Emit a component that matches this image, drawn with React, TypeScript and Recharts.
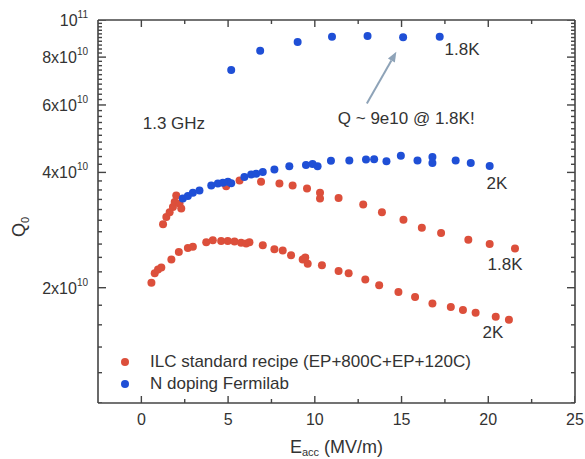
import React from 'react';
import { ScatterChart, Scatter, XAxis, YAxis, ReferenceLine, ReferenceDot, Legend } from 'recharts';

const FONT = '"Liberation Sans", Arial, Helvetica, sans-serif';
const RED = '#dc4f3b';
const BLUE = '#1f4fd6';
const AXIS = '#444444';
const TEXT = '#333333';
const ARROW = '#8ea3b8';

// Axes
const X_DOMAIN = [-2.5, 25];
const X_MAJOR_TICKS = [0, 5, 10, 15, 20, 25];
const X_MINOR_TICKS = [2.5, 7.5, 12.5, 17.5, 22.5];
const Y_DOMAIN = [1e10, 1e11];
const Y_MAJOR_TICKS = [2e10, 4e10, 6e10, 8e10, 1e11];
const Y_MINOR_START = 1e10;
const Y_MINOR_STEP = 2e9;
const Y_MINOR_COUNT = 46;

// N doping Fermilab, 1.8 K
const N18_E = [5.18, 6.85, 9.01, 10.99, 13.04, 15.09, 17.2];
const N18_Q = [7.40e10, 8.31e10, 8.76e10, 9.04e10, 9.08e10, 9.01e10, 9.04e10];

// N doping Fermilab, 2 K
const N20_E = [2.39, 2.68, 2.97, 3.35, 4.03, 4.41, 4.70, 4.99, 5.18, 5.94, 6.33, 6.62, 7.00, 7.67, 8.53, 9.49, 9.87, 10.16, 10.93, 11.99, 12.95, 13.42, 14.13, 14.96, 15.92, 16.78, 16.78, 18.12, 18.99, 20.08];
const N20_Q = [3.42e10, 3.47e10, 3.54e10, 3.59e10, 3.70e10, 3.74e10, 3.76e10, 3.78e10, 3.75e10, 3.89e10, 3.95e10, 3.97e10, 4.01e10, 4.07e10, 4.15e10, 4.18e10, 4.21e10, 4.15e10, 4.29e10, 4.30e10, 4.32e10, 4.33e10, 4.28e10, 4.42e10, 4.30e10, 4.39e10, 4.23e10, 4.30e10, 4.23e10, 4.16e10];

// ILC standard recipe, 1.8 K
const ILC18_E = [1.25, 1.44, 1.63, 1.82, 1.92, 2.01, 2.20, 2.30, 4.89, 5.66, 6.90, 7.96, 8.72, 9.55, 10.30, 10.30, 11.37, 12.79, 13.87, 15.11, 16.17, 17.28, 18.85, 20.08, 21.54];
const ILC18_Q = [2.93e10, 3.06e10, 3.15e10, 3.25e10, 3.35e10, 3.48e10, 3.32e10, 3.22e10, 3.68e10, 3.81e10, 3.78e10, 3.74e10, 3.70e10, 3.63e10, 3.54e10, 3.42e10, 3.43e10, 3.30e10, 3.15e10, 3.01e10, 2.87e10, 2.78e10, 2.67e10, 2.60e10, 2.53e10];

// ILC standard recipe, 2 K
const ILC20_E = [0.58, 0.77, 0.96, 1.15, 1.73, 2.16, 2.68, 2.97, 3.74, 4.12, 4.60, 4.98, 5.37, 5.75, 6.04, 6.23, 7.00, 7.67, 8.15, 8.63, 9.30, 9.45, 9.59, 10.41, 11.37, 11.95, 12.91, 13.71, 14.82, 15.78, 16.78, 17.84, 18.54, 19.27, 20.43, 21.19];
const ILC20_Q = [2.06e10, 2.18e10, 2.23e10, 2.26e10, 2.37e10, 2.48e10, 2.54e10, 2.56e10, 2.63e10, 2.66e10, 2.65e10, 2.65e10, 2.64e10, 2.62e10, 2.61e10, 2.63e10, 2.58e10, 2.52e10, 2.50e10, 2.43e10, 2.37e10, 2.40e10, 2.31e10, 2.29e10, 2.21e10, 2.18e10, 2.10e10, 2.03e10, 1.95e10, 1.89e10, 1.82e10, 1.78e10, 1.75e10, 1.72e10, 1.68e10, 1.65e10];

const LEGEND_LABELS = ['ILC standard recipe (EP+800C+EP+120C)', 'N doping Fermilab'];
const LEGEND_COLORS = [RED, BLUE];

// Annotations [E, Q, text, anchor]
const ANNOTATIONS: [number, number, string, string][] = [
  [0.08, 5.38e10, '1.3 GHz', 'start'],
  [15.27, 5.54e10, 'Q ~ 9e10 @ 1.8K!', 'middle'],
  [17.48, 8.40e10, '1.8K', 'start'],
  [19.9, 3.75e10, '2K', 'start'],
  [19.96, 2.31e10, '1.8K', 'start'],
  [19.67, 1.53e10, '2K', 'start'],
];
const ARROW_FROM = { x: 13.0, y: 6.05e10 };
const ARROW_TO = { x: 14.7, y: 8.26e10 };

const toPoints = (e: number[], q: number[]) => e.map((v, i) => ({ e: v, q: q[i] }));

const X_TICKS = [...X_MAJOR_TICKS, ...X_MINOR_TICKS].sort((a, b) => a - b);
const Y_TICKS = Array.from({ length: Y_MINOR_COUNT }, (_, k) => Y_MINOR_START + k * Y_MINOR_STEP);

const isYMajor = (v: number) => Y_MAJOR_TICKS.some((m) => Math.abs(m - v) < 1e6);
const isXMajor = (v: number) => X_MAJOR_TICKS.includes(v);

// tick marks placed on the frame through the chart's own scales
const Y_MINOR_ONLY = Y_TICKS.filter((v) => !isYMajor(v));
const BOTTOM_MAJOR = X_MAJOR_TICKS.map((e) => ({ e, q: Y_DOMAIN[0] }));
const BOTTOM_MINOR = X_MINOR_TICKS.map((e) => ({ e, q: Y_DOMAIN[0] }));
const TOP_MAJOR = X_MAJOR_TICKS.map((e) => ({ e, q: Y_DOMAIN[1] }));
const TOP_MINOR = X_MINOR_TICKS.map((e) => ({ e, q: Y_DOMAIN[1] }));
const LEFT_MAJOR = Y_MAJOR_TICKS.map((q) => ({ e: X_DOMAIN[0], q }));
const LEFT_MINOR = Y_MINOR_ONLY.map((q) => ({ e: X_DOMAIN[0], q }));
const RIGHT_MAJOR = Y_MAJOR_TICKS.map((q) => ({ e: X_DOMAIN[1], q }));
const RIGHT_MINOR = Y_MINOR_ONLY.map((q) => ({ e: X_DOMAIN[1], q }));

const tickMark = (dx: number, dy: number) => (p: any) => (
  <line x1={p.cx} y1={p.cy} x2={p.cx + dx} y2={p.cy + dy} stroke={AXIS} strokeWidth={1.4} />
);

const BottomLabel = (p: any) => {
  const { x, y, payload } = p;
  const v = payload.value;
  if (!isXMajor(v)) return <g />;
  return (
    <text x={x} y={y + 22} textAnchor="middle" fontSize={16} fill={TEXT} fontFamily={FONT}>
      {v}
    </text>
  );
};

const LeftLabel = (p: any) => {
  const { x, y, payload } = p;
  const v = payload.value;
  if (!isYMajor(v)) return <g />;
  let main = '';
  let sup = '';
  if (Math.abs(v - 1e11) < 1e6) {
    main = '10';
    sup = '11';
  } else {
    main = `${Math.round(v / 1e10)}x10`;
    sup = '10';
  }
  return (
    <text x={x - 10} y={y + 6} textAnchor="end" fontSize={16} fill={TEXT} fontFamily={FONT}>
      {main}
      <tspan fontSize={10} dy={-8}>{sup}</tspan>
    </text>
  );
};

const ArrowShape = (p: any) => {
  const { x1, y1, x2, y2 } = p;
  const ang = Math.atan2(y2 - y1, x2 - x1);
  const L = 10;
  const W = 4;
  const c = Math.cos(ang);
  const s = Math.sin(ang);
  const bx = x2 - L * c;
  const by = y2 - L * s;
  return (
    <g>
      <line x1={x1} y1={y1} x2={bx} y2={by} stroke={ARROW} strokeWidth={2} />
      <polygon points={`${x2},${y2} ${bx + W * s},${by - W * c} ${bx - W * s},${by + W * c}`} fill={ARROW} />
    </g>
  );
};

const dot = (color: string) => (p: any) => <circle cx={p.cx} cy={p.cy} r={4} fill={color} />;

const LegendContent = () => (
  <div style={{ fontFamily: FONT, fontSize: 17, color: TEXT }}>
    {LEGEND_LABELS.map((label, i) => (
      <div key={label} style={{ display: 'flex', alignItems: 'center', height: 22, whiteSpace: 'nowrap' }}>
        <span style={{ display: 'inline-block', width: 8, height: 8, borderRadius: 4, background: LEGEND_COLORS[i], marginRight: 21 }} />
        <span>{label}</span>
      </div>
    ))}
  </div>
);

const YTitle = (p: any) => {
  const vb = p.viewBox || { x: 0, y: 20, width: 98, height: 383 };
  const cx = vb.x + 25;
  const cy = 237;
  return (
    <text x={cx} y={cy} transform={`rotate(-90 ${cx} ${cy})`} fontSize={18} fill={TEXT} fontFamily={FONT}>
      Q<tspan fontSize={11} dy={4}>0</tspan>
    </text>
  );
};

const XTitle = (p: any) => {
  const vb = p.viewBox || { x: 98, y: 403, width: 477, height: 56 };
  const cx = vb.x + vb.width / 2;
  return (
    <text x={cx} y={vb.y + 50} textAnchor="middle" fontSize={18} fill={TEXT} fontFamily={FONT}>
      E<tspan fontSize={11} dy={3}>acc</tspan>
      <tspan dy={-3}> (MV/m)</tspan>
    </text>
  );
};

export default function App() {
  const n18 = toPoints(N18_E, N18_Q);
  const tickSeries: [any[], number, number, string, string][] = [
    [BOTTOM_MAJOR, 0, -7, '0', '0'],
    [BOTTOM_MINOR, 0, -4, '0', '0'],
    [LEFT_MAJOR, 8, 0, '0', '0'],
    [LEFT_MINOR, 4, 0, '0', '0'],
    [TOP_MAJOR, 0, 7, 'top', 'right'],
    [TOP_MINOR, 0, 4, 'top', 'right'],
    [RIGHT_MAJOR, -8, 0, 'top', 'right'],
    [RIGHT_MINOR, -4, 0, 'top', 'right'],
  ];
  return (
    <div style={{ position: 'absolute', left: 0, top: 0 }}>
      <ScatterChart width={585} height={459} margin={{ top: 19, right: 9, bottom: 0, left: 0 }}>
        <XAxis
          xAxisId={0}
          dataKey="e"
          type="number"
          domain={X_DOMAIN}
          ticks={X_TICKS}
          interval={0}
          height={56}
          tickSize={0}
          tickMargin={0}
          tickLine={false}
          tick={(p: any) => <BottomLabel {...p} />}
          axisLine={{ stroke: AXIS, strokeWidth: 1.6 }}
          allowDataOverflow
          label={(p: any) => <XTitle {...p} />}
        />
        <XAxis
          xAxisId="top"
          orientation="top"
          dataKey="e"
          type="number"
          domain={X_DOMAIN}
          ticks={X_TICKS}
          interval={0}
          height={1}
          tickSize={0}
          tickMargin={0}
          tickLine={false}
          tick={false}
          axisLine={{ stroke: AXIS, strokeWidth: 1.6 }}
          allowDataOverflow
        />
        <YAxis
          yAxisId={0}
          dataKey="q"
          type="number"
          scale="log"
          domain={Y_DOMAIN}
          ticks={Y_TICKS}
          interval={0}
          width={98}
          tickSize={0}
          tickMargin={0}
          tickLine={false}
          tick={(p: any) => <LeftLabel {...p} />}
          axisLine={{ stroke: AXIS, strokeWidth: 1.6 }}
          allowDataOverflow
          label={(p: any) => <YTitle {...p} />}
        />
        <YAxis
          yAxisId="right"
          orientation="right"
          dataKey="q"
          type="number"
          scale="log"
          domain={Y_DOMAIN}
          ticks={Y_TICKS}
          interval={0}
          width={1}
          tickSize={0}
          tickMargin={0}
          tickLine={false}
          tick={false}
          axisLine={{ stroke: AXIS, strokeWidth: 1.6 }}
          allowDataOverflow
        />
        {tickSeries.map(([data, dx, dy, xa, ya], i) => (
          <Scatter
            key={`tick-${i}`}
            name={`tick-${i}`}
            data={data}
            shape={tickMark(dx, dy)}
            legendType="none"
            isAnimationActive={false}
            xAxisId={xa === '0' ? 0 : xa}
            yAxisId={ya === '0' ? 0 : ya}
          />
        ))}
        <Scatter name="ILC 2K" data={toPoints(ILC20_E, ILC20_Q)} fill={RED} shape={dot(RED)} isAnimationActive={false} xAxisId={0} yAxisId={0} />
        <Scatter name="ILC 1.8K" data={toPoints(ILC18_E, ILC18_Q)} fill={RED} shape={dot(RED)} isAnimationActive={false} xAxisId={0} yAxisId={0} />
        <Scatter name="N 2K" data={toPoints(N20_E, N20_Q)} fill={BLUE} shape={dot(BLUE)} isAnimationActive={false} xAxisId={0} yAxisId={0} />
        <Scatter name="N 1.8K" data={n18} fill={BLUE} shape={dot(BLUE)} isAnimationActive={false} xAxisId={0} yAxisId={0} />
        <ReferenceLine
          xAxisId={0}
          yAxisId={0}
          segment={[ARROW_FROM, ARROW_TO]}
          shape={(p: any) => <ArrowShape {...p} />}
        />
        {ANNOTATIONS.map(([e, q, txt, anchor], i) => (
          <ReferenceDot
            key={i}
            xAxisId={0}
            yAxisId={0}
            x={e}
            y={q}
            r={0}
            shape={(p: any) => (
              <text x={p.cx} y={p.cy + 6} textAnchor={anchor as any} fontSize={17} fill={TEXT} fontFamily={FONT}>
                {txt}
              </text>
            )}
          />
        ))}
        <Legend
          layout="vertical"
          align="center"
          verticalAlign="middle"
          wrapperStyle={{ left: 121, top: 351, width: 'auto', height: 'auto' }}
          content={() => <LegendContent />}
        />
      </ScatterChart>
    </div>
  );
}
